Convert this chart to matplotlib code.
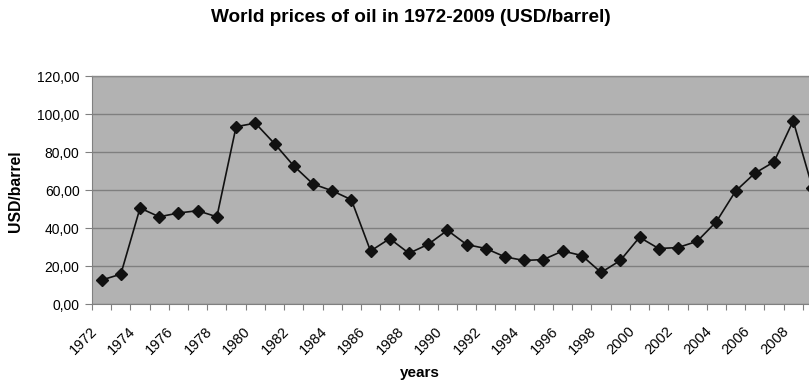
import matplotlib
matplotlib.use("Agg")
import matplotlib.pyplot as plt
from matplotlib.ticker import FixedLocator, FuncFormatter
from matplotlib.transforms import ScaledTranslation

plt.rcParams["font.family"] = ["Liberation Sans", "DejaVu Sans"]

years = list(range(1972, 2010))
prices = [12.6, 15.7, 50.5, 45.9, 47.9, 49.1, 45.9, 93.3, 95.2, 84.4,
          72.7, 63.2, 59.6, 54.9, 27.9, 34.4, 26.7, 31.4, 38.8, 31.3,
          29.2, 24.8, 22.9, 23.4, 27.9, 25.5, 16.6, 22.9, 35.1, 29.2,
          29.7, 33.0, 43.3, 59.4, 68.8, 74.8, 96.4, 61.3]
y_ticks = [0, 20, 40, 60, 80, 100, 120]

fig = plt.figure(figsize=(8.09, 3.82), dpi=100)
ax = fig.add_axes([92 / 809, 78 / 382, 730 / 809, 228 / 382])
ax.set_facecolor("#b2b2b2")

idx = list(range(len(years)))
ax.plot(idx, prices, color="#111111", lw=1.2, marker="D", ms=6,
        mfc="#111111", mec="#111111", zorder=3, clip_on=False)

ax.set_xlim(-0.5, len(years) - 0.5)
ax.set_ylim(0, 120)

# category boundaries carry the tick marks, labels sit on even years
ax.xaxis.set_major_locator(FixedLocator([i - 0.5 for i in range(len(years) + 1)]))
ax.xaxis.set_major_formatter(FuncFormatter(lambda v, p: ""))
label_pos = [i for i, y in enumerate(years) if y % 2 == 0]
ax.xaxis.set_minor_locator(FixedLocator(label_pos))
ax.xaxis.set_minor_formatter(FuncFormatter(lambda v, p: str(years[int(round(v))])))
ax.tick_params(axis="x", which="major", length=4, width=0.8, color="#808080", direction="out")
ax.tick_params(axis="x", which="minor", length=0, pad=6, labelsize=10.5)
fig.canvas.draw()
shift = ScaledTranslation(-12 / 100, -12 / 100, fig.dpi_scale_trans)
for lbl in ax.get_xticklabels(minor=True):
    lbl.set_rotation(45)
    lbl.set_ha("right")
    lbl.set_rotation_mode("anchor")
    lbl.set_transform(lbl.get_transform() + shift)

ax.set_yticks(y_ticks)
ax.yaxis.set_major_formatter(FuncFormatter(lambda v, p: f"{v:.2f}".replace(".", ",")))
ax.tick_params(axis="y", length=5, width=0.8, color="#808080", labelsize=10, pad=4)

ax.grid(axis="y", color="#7f7f7f", lw=1.0)
ax.set_axisbelow(True)
for side in ("top", "right"):
    ax.spines[side].set_color("#8a8a8a")
    ax.spines[side].set_linewidth(1.0)
ax.spines["left"].set_color("#808080")
ax.spines["bottom"].set_color("#808080")

fig.text(411 / 809, 1 - 18 / 382, "World prices of oil in 1972-2009 (USD/barrel)",
         ha="center", va="center", fontsize=13.7, fontweight="bold")
fig.text(16 / 809, 1 - 191 / 382, "USD/barrel", rotation=90, ha="center",
         va="center", fontsize=11.3, fontweight="bold")
fig.text(420 / 809, 1 - 373 / 382, "years", ha="center", va="center",
         fontsize=11, fontweight="bold")

fig.savefig("out.png", dpi=100)
